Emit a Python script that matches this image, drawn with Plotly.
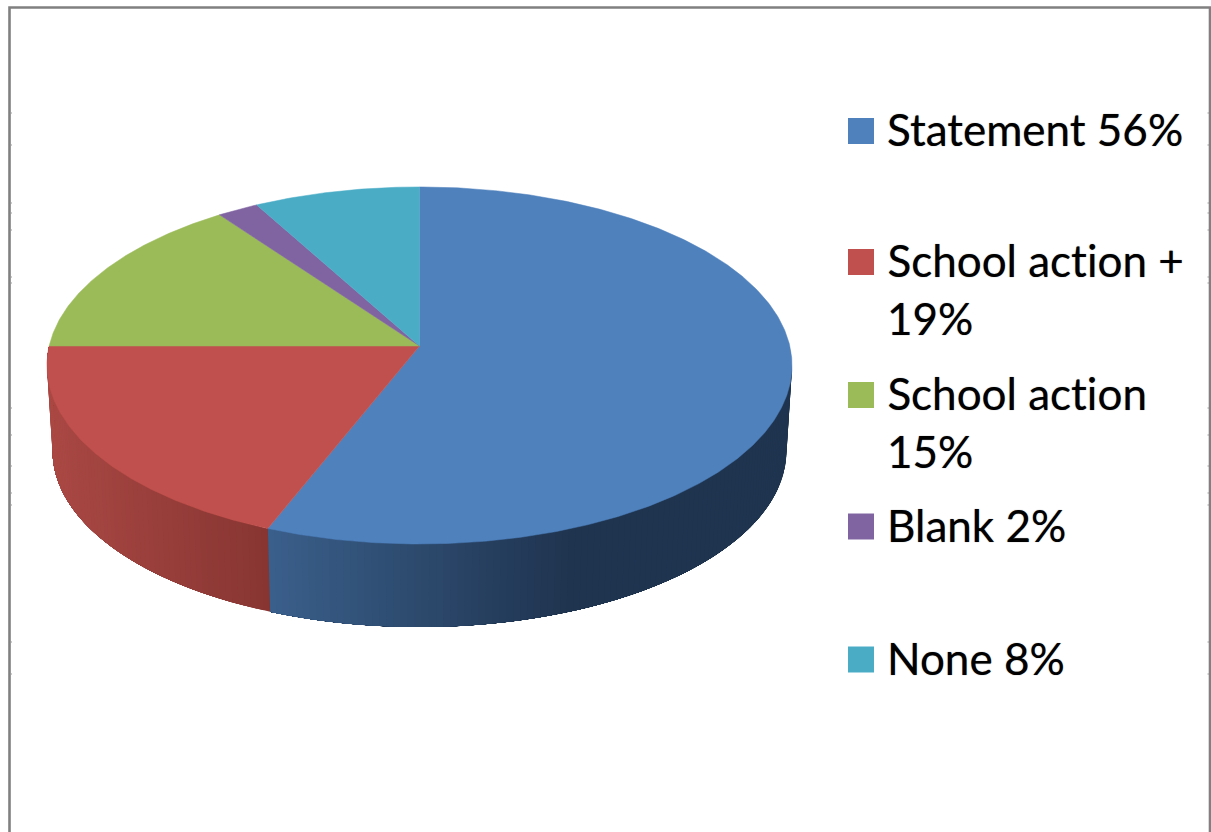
import math
import plotly.graph_objects as go

# Survey responses, in the order they run clockwise from twelve o'clock
CATEGORIES = ["Statement", "School action +", "School action", "Blank", "None"]
SHARES = [56, 19, 15, 2, 8]
COLORS = ["#4F81BD", "#C0504D", "#9BBB59", "#8064A2", "#4BACC6"]

WIDTH, HEIGHT = 1211, 832

# Perspective disc: the rim is a projected circle, nearer points drawn larger
CX, TOP_CY = 419.5, 346.0
RX, RY, PERSP = 370.3, 176.4, 0.109
BASE_CY, BASE_SCALE = 432.0, 0.985


def rim(angle_deg, cy=TOP_CY, scale=1.0):
    """Screen position of the disc rim, angle measured clockwise from the top."""
    a = math.radians(angle_deg)
    u, v = math.sin(a), math.cos(a)
    w = 1 + PERSP * v
    return CX + scale * RX * u / w, cy - scale * RY * v / w


def mix(c1, c2, t):
    t = max(0.0, min(1.0, t))
    return "rgb(%d,%d,%d)" % tuple(round(a + (b - a) * t) for a, b in zip(c1, c2))


def side_shade(index, x):
    """Wall colour at a given horizontal position, per slice."""
    if index == 0:
        return mix((58, 95, 139), (31, 52, 79), (x - 268) / (570 - 268))
    return mix((170, 72, 68), (135, 53, 50), (x - 47) / (268 - 47))


fig = go.Figure()

# Running boundaries of each slice in degrees
bounds = [0.0]
for share in SHARES:
    bounds.append(bounds[-1] + share * 3.6)

# Front wall: each strip reaches to the slice's far end and the next strip is
# painted over it, so no gaps open up between neighbouring strips
STEP = 1.0
for i, (start, end) in enumerate(zip(bounds[:-1], bounds[1:])):
    lo, hi = max(start, 90.0), min(end, 270.0)
    if lo >= hi:
        continue
    n = max(1, round((hi - lo) / STEP))
    for k in range(n):
        a0 = lo + (hi - lo) * k / n
        arc = [a0 + (hi - a0) * m / 12 for m in range(13)]
        top = [rim(a) for a in arc]
        base = [rim(a, BASE_CY, BASE_SCALE) for a in arc]
        ring = top + base[::-1] + [top[0]]
        mid = rim(lo + (hi - lo) * (k + 0.5) / n)
        shade = side_shade(i, mid[0])
        fig.add_trace(go.Scatter(
            x=[p[0] for p in ring], y=[p[1] for p in ring],
            mode="lines", fill="toself", fillcolor=shade,
            line=dict(width=0), hoverinfo="skip", showlegend=False,
        ))

# Top face of each slice
for name, start, end, color in zip(CATEGORIES, bounds[:-1], bounds[1:], COLORS):
    n = max(4, round((end - start) * 2))
    pts = [rim(start + (end - start) * k / n) for k in range(n + 1)]
    xs = [CX] + [p[0] for p in pts] + [CX]
    ys = [TOP_CY] + [p[1] for p in pts] + [TOP_CY]
    fig.add_trace(go.Scatter(
        x=xs, y=ys, mode="lines", fill="toself", fillcolor=color,
        line=dict(color=color, width=0.5), name=name, showlegend=False,
    ))

# Legend: swatch centres and one text row per wrapped line
SWATCH_Y = [131, 262, 395, 526.5, 659.5]
LEGEND_LINES = [
    [f"{CATEGORIES[0]} {SHARES[0]}%"],
    [CATEGORIES[1], f"{SHARES[1]}%"],
    [CATEGORIES[2], f"{SHARES[2]}%"],
    [f"{CATEGORIES[3]} {SHARES[3]}%"],
    [f"{CATEGORIES[4]} {SHARES[4]}%"],
]
LINE_GAP = 58

fig.add_trace(go.Scatter(
    x=[861] * len(SWATCH_Y), y=SWATCH_Y, mode="markers",
    marker=dict(symbol="square", size=26, color=COLORS, line=dict(width=0)),
    hoverinfo="skip", showlegend=False,
))

annotations = []
for y0, lines in zip(SWATCH_Y, LEGEND_LINES):
    for j, text in enumerate(lines):
        annotations.append(dict(
            x=886.5, y=y0 - 2 + j * LINE_GAP, xref="x", yref="y", text=text,
            showarrow=False, xanchor="left", yanchor="middle",
            borderpad=0, borderwidth=0,
            font=dict(family="Lato", size=44, color="#000000",
                      shadow="0 0 1px rgba(0,0,0,0.55)"),
        ))

# Chart frame, which runs off the bottom of the page
FRAME = "#808080"
fig.add_trace(go.Scatter(
    x=[9.5, 9.5, 1210, 1210], y=[HEIGHT + 5, 7.5, 7.5, HEIGHT + 5],
    mode="lines", line=dict(color=FRAME, width=2.6),
    hoverinfo="skip", showlegend=False,
))

# Small notches along the inner side of the frame
NOTCH_Y = [113, 145, 203, 213, 230, 277, 283, 408, 435, 466, 493, 505, 642, 674]
notch_x, notch_y = [], []
for y in NOTCH_Y:
    notch_x += [10.5, 12, None, 1207.5, 1209, None]
    notch_y += [y, y, None, y, y, None]
fig.add_trace(go.Scatter(
    x=notch_x, y=notch_y, mode="lines",
    line=dict(color="#9a9a9a", width=1),
    hoverinfo="skip", showlegend=False,
))

fig.update_layout(
    width=WIDTH, height=HEIGHT,
    margin=dict(l=0, r=0, t=0, b=0),
    paper_bgcolor="white", plot_bgcolor="white",
    showlegend=False,
    xaxis=dict(range=[0, WIDTH], visible=False, fixedrange=True),
    yaxis=dict(range=[HEIGHT, 0], visible=False, fixedrange=True),
    annotations=annotations,
)

# Plain letterforms for the legend text, without the font's joined "ti" glyph
fig.write_html(
    "out.html",
    post_script="document.querySelectorAll('.annotation-text')"
                ".forEach(function(t){t.style.fontVariantLigatures='none';});",
)
